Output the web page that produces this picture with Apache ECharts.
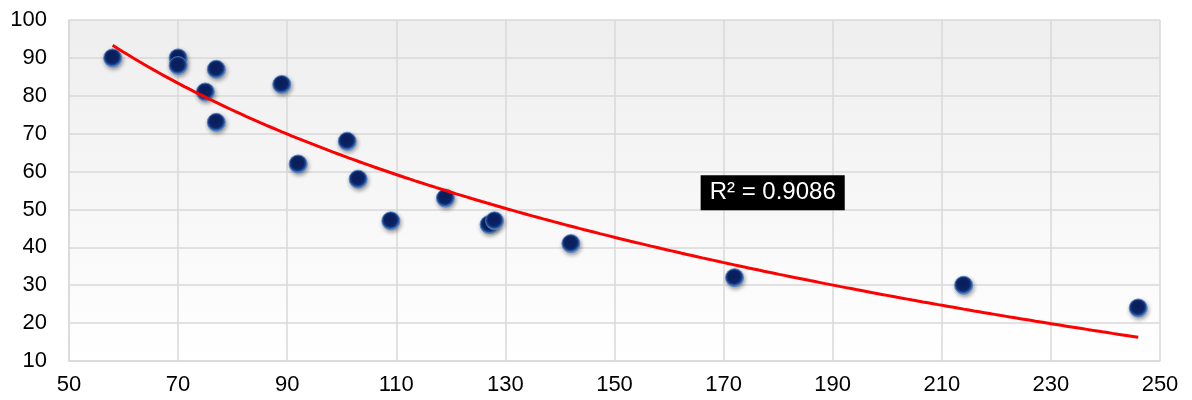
<!DOCTYPE html>
<html>
<head>
<meta charset="utf-8">
<script src="https://cdn.jsdelivr.net/npm/echarts@6/dist/echarts.min.js"></script>
<style>
  html, body { margin: 0; padding: 0; background: #ffffff; }
  #chart { width: 1192px; height: 400px; }
</style>
</head>
<body>
<div id="chart"></div>
<script>
// Observations (x, y)
const xValues = [58, 70, 70, 77, 75, 77, 89, 92, 101, 103, 109, 119, 127, 128, 142, 172, 214, 246];
const yValues = [90, 90, 88, 87, 81, 73, 83, 62, 68, 58, 47, 53, 46, 47, 41, 32, 30, 24];

// Axis ticks
const xTicks = [50, 70, 90, 110, 130, 150, 170, 190, 210, 230, 250];
const yTicks = [10, 20, 30, 40, 50, 60, 70, 80, 90, 100];

// Label for the fitted curve
const rSquaredText = 'R² = 0.9086';
const rSquaredAnchor = [179, 54.4];

// Logarithmic least-squares fit: y = a + b * ln(x)
function logFit(xs, ys) {
  const n = xs.length;
  const lx = xs.map(Math.log);
  const mx = lx.reduce((s, v) => s + v, 0) / n;
  const my = ys.reduce((s, v) => s + v, 0) / n;
  let sxy = 0, sxx = 0;
  for (let i = 0; i < n; i++) {
    sxy += (lx[i] - mx) * (ys[i] - my);
    sxx += (lx[i] - mx) * (lx[i] - mx);
  }
  const b = sxy / sxx;
  return { a: my - b * mx, b: b };
}

const fit = logFit(xValues, yValues);
const xMin = Math.min(...xValues), xMax = Math.max(...xValues);
const curve = [];
for (let i = 0; i <= 200; i++) {
  const x = xMin + (xMax - xMin) * i / 200;
  curve.push([x, fit.a + fit.b * Math.log(x)]);
}

const points = xValues.map((x, i) => [x, yValues[i]]);

const chart = echarts.init(document.getElementById('chart'), null, { renderer: 'canvas' });

const gridColor = '#d9d9d9';
const labelFont = { color: '#000000', fontSize: 22, fontFamily: 'Liberation Sans, Arial, sans-serif' };

chart.setOption({
  animation: false,
  backgroundColor: '#ffffff',
  grid: {
    left: 69, right: 32, top: 20, bottom: 39,
    show: true,
    borderWidth: 0,
    backgroundColor: new echarts.graphic.LinearGradient(0, 0, 0, 1, [
      { offset: 0, color: '#eeeeee' },
      { offset: 1, color: '#ffffff' }
    ])
  },
  xAxis: {
    type: 'value',
    min: xTicks[0], max: xTicks[xTicks.length - 1], interval: xTicks[1] - xTicks[0],
    axisLine: { show: true, lineStyle: { color: gridColor, width: 1.5 } },
    axisTick: { show: false },
    splitLine: { show: true, lineStyle: { color: gridColor, width: 1.5 } },
    axisLabel: Object.assign({ margin: 13 }, labelFont)
  },
  yAxis: {
    type: 'value',
    min: yTicks[0], max: yTicks[yTicks.length - 1], interval: yTicks[1] - yTicks[0],
    axisLine: { show: true, lineStyle: { color: gridColor, width: 1.5 } },
    axisTick: { show: false },
    splitLine: { show: true, lineStyle: { color: gridColor, width: 1.5 } },
    axisLabel: Object.assign({ margin: 22 }, labelFont)
  },
  series: [
    {
      type: 'scatter',
      data: points,
      symbol: 'circle',
      symbolSize: 18,
      itemStyle: {
        opacity: 1,
        color: new echarts.graphic.RadialGradient(0.48, 0.45, 0.55, [
          { offset: 0, color: '#0a1d58' },
          { offset: 0.58, color: '#0b2466' },
          { offset: 0.74, color: '#1a4392' },
          { offset: 0.88, color: '#4d7fc8' },
          { offset: 1, color: '#86aee6' }
        ]),
        borderColor: '#4a7bc2',
        borderWidth: 0.8,
        shadowBlur: 4,
        shadowColor: 'rgba(0,0,0,0.4)',
        shadowOffsetX: 1,
        shadowOffsetY: 2
      },
      z: 3
    },
    {
      type: 'line',
      data: curve,
      showSymbol: false,
      lineStyle: { color: '#ff0000', width: 3 },
      z: 4
    },
    {
      type: 'scatter',
      data: [rSquaredAnchor],
      symbolSize: 0,
      silent: true,
      itemStyle: { opacity: 1 },
      label: {
        show: true,
        position: 'inside',
        formatter: rSquaredText,
        color: '#ffffff',
        backgroundColor: '#000000',
        padding: [6, 9, 5, 9],
        fontSize: 24,
        fontFamily: 'Liberation Sans, Arial, sans-serif'
      },
      z: 5
    }
  ]
});
</script>
</body>
</html>
